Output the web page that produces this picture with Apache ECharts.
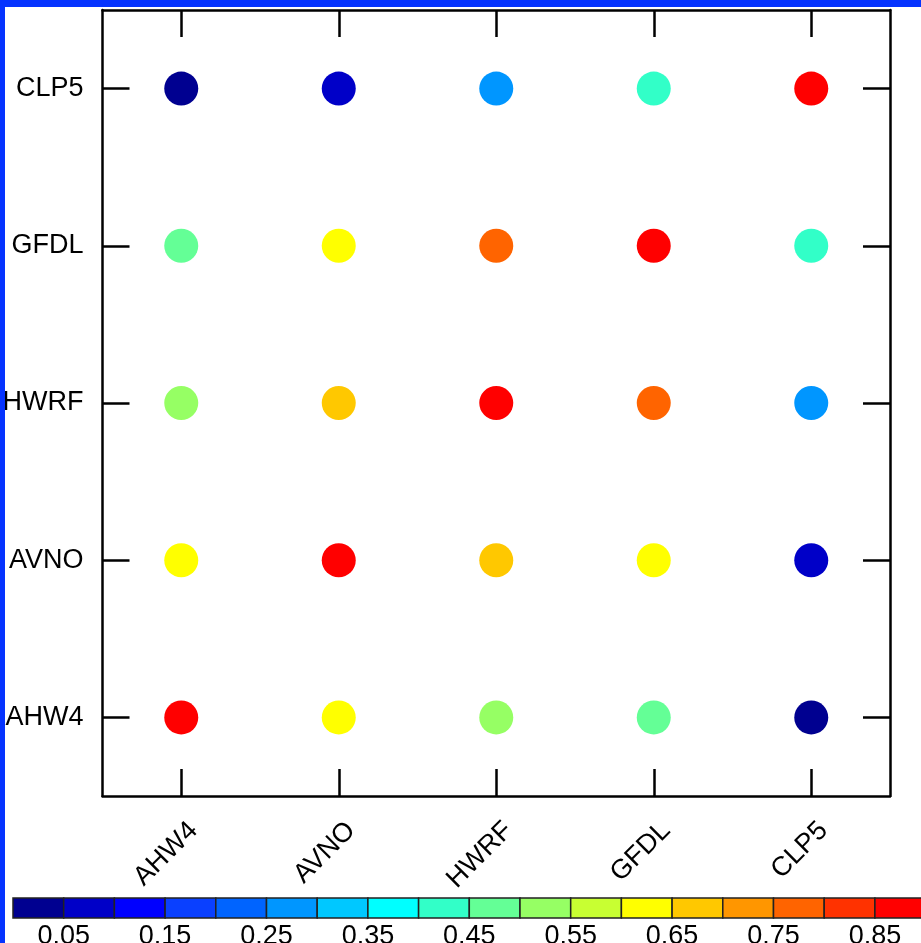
<!DOCTYPE html>
<html>
<head>
<meta charset="utf-8">
<script src="https://cdn.jsdelivr.net/npm/echarts@6/dist/echarts.min.js"></script>
<style>
  html, body { margin: 0; padding: 0; background: #ffffff; }
  #chart { width: 921px; height: 943px; }
</style>
</head>
<body>
<div id="chart"></div>
<script>
// Models (categories), bottom-to-top on y, left-to-right on x
const models = ['AHW4', 'AVNO', 'HWRF', 'GFDL', 'CLP5'];

// Correlation-like matrix values, one named row per model (columns follow `models`)
const rowAHW4 = [1.00, 0.63, 0.52, 0.47, 0.02];
const rowAVNO = [0.63, 1.00, 0.68, 0.62, 0.08];
const rowHWRF = [0.52, 0.68, 1.00, 0.78, 0.28];
const rowGFDL = [0.47, 0.62, 0.78, 1.00, 0.43];
const rowCLP5 = [0.02, 0.08, 0.28, 0.43, 1.00];
const rows = [rowAHW4, rowAVNO, rowHWRF, rowGFDL, rowCLP5];

// Colour bar levels (box boundaries) and colours
const levels = [0.00, 0.05, 0.10, 0.15, 0.20, 0.25, 0.30, 0.35, 0.40, 0.45,
                0.50, 0.55, 0.60, 0.65, 0.70, 0.75, 0.80, 0.85, 0.90];
const levelColors = ['#000090', '#0000c8', '#0000ff', '#0a40ff', '#0064ff', '#0096ff',
                     '#00c8ff', '#00ffff', '#32ffc8', '#64ff96', '#96ff64', '#c8ff32',
                     '#ffff00', '#ffc800', '#ff9600', '#ff6400', '#ff3200', '#ff0000'];
const colorbarTicks = [0.05, 0.15, 0.25, 0.35, 0.45, 0.55, 0.65, 0.75, 0.85, 0.95];

// Build scatter data
const scatterData = [];
rows.forEach((row, yi) => {
  row.forEach((v, xi) => {
    scatterData.push([xi, yi, v]);
  });
});

// visualMap pieces
const pieces = levelColors.map((c, i) => {
  if (i === levelColors.length - 1) return { gte: levels[i], color: c };
  return { gte: levels[i], lt: levels[i + 1], color: c };
});

// Colour bar boxes
const barData = levelColors.map((c, i) => [levels[i], levels[i + 1], i]);

const FONT = 'Liberation Sans';
const lineStyle = { color: '#000', width: 2.5 };

const chart = echarts.init(document.getElementById('chart'));
chart.setOption({
  backgroundColor: '#ffffff',
  animation: false,
  grid: [
    { left: 102.5, top: 10, width: 787.5, height: 786, containLabel: false, outerBoundsMode: 'none' },
    { left: 13, top: 898, width: 912.6, height: 20, containLabel: false, outerBoundsMode: 'none' }
  ],
  xAxis: [
    {
      type: 'category', data: models, gridIndex: 0, position: 'bottom',
      boundaryGap: true,
      axisLine: { show: true, lineStyle },
      axisTick: { show: true, inside: true, length: 27, alignWithLabel: true, lineStyle },
      axisLabel: { rotate: 45, margin: 18, verticalAlign: 'top', padding: [4, 0, 0, 0],
                   fontSize: 27, fontFamily: FONT, color: '#000' },
      splitLine: { show: false }
    },
    {
      type: 'category', data: models, gridIndex: 0, position: 'top',
      boundaryGap: true,
      axisLine: { show: true, lineStyle },
      axisTick: { show: true, inside: true, length: 27, alignWithLabel: true, lineStyle },
      axisLabel: { show: false },
      splitLine: { show: false }
    },
    {
      type: 'value', gridIndex: 1, min: 0, max: 0.9,
      axisLine: { show: false },
      axisTick: { show: false },
      splitLine: { show: false },
      axisLabel: {
        show: true, customValues: colorbarTicks, margin: 5,
        fontSize: 27, fontFamily: FONT, color: '#000',
        formatter: v => Number(v).toFixed(2)
      }
    }
  ],
  yAxis: [
    {
      type: 'category', data: models, gridIndex: 0, position: 'left',
      boundaryGap: true,
      axisLine: { show: true, lineStyle },
      axisTick: { show: true, inside: true, length: 27, alignWithLabel: true, lineStyle },
      axisLabel: { margin: 19, fontSize: 27, fontFamily: FONT, color: '#000' },
      splitLine: { show: false }
    },
    {
      type: 'category', data: models, gridIndex: 0, position: 'right',
      boundaryGap: true,
      axisLine: { show: true, lineStyle },
      axisTick: { show: true, inside: true, length: 27, alignWithLabel: true, lineStyle },
      axisLabel: { show: false },
      splitLine: { show: false }
    },
    {
      type: 'value', gridIndex: 1, min: 0, max: 1, show: false
    }
  ],
  visualMap: {
    show: false, type: 'piecewise', seriesIndex: 0, dimension: 2, pieces: pieces
  },
  series: [
    {
      type: 'scatter', xAxisIndex: 0, yAxisIndex: 0,
      symbol: 'circle', symbolSize: 34,
      itemStyle: { opacity: 1 },
      data: scatterData
    },
    {
      type: 'custom', xAxisIndex: 2, yAxisIndex: 2,
      data: barData,
      encode: { x: [0, 1] },
      renderItem: function (params, api) {
        const cs = params.coordSys;
        const x0 = api.coord([api.value(0), 0])[0];
        const x1 = api.coord([api.value(1), 0])[0];
        return {
          type: 'rect',
          shape: { x: x0, y: cs.y, width: x1 - x0, height: cs.height },
          style: { fill: levelColors[api.value(2)], stroke: '#222', lineWidth: 1.5 }
        };
      }
    }
  ],
  graphic: [
    { type: 'rect', left: 0, top: 0, shape: { width: 5, height: 943 }, style: { fill: '#0533ff' }, z: 100 },
    { type: 'rect', left: 0, top: 0, shape: { width: 921, height: 7 }, style: { fill: '#0533ff' }, z: 100 }
  ]
});
</script>
</body>
</html>
